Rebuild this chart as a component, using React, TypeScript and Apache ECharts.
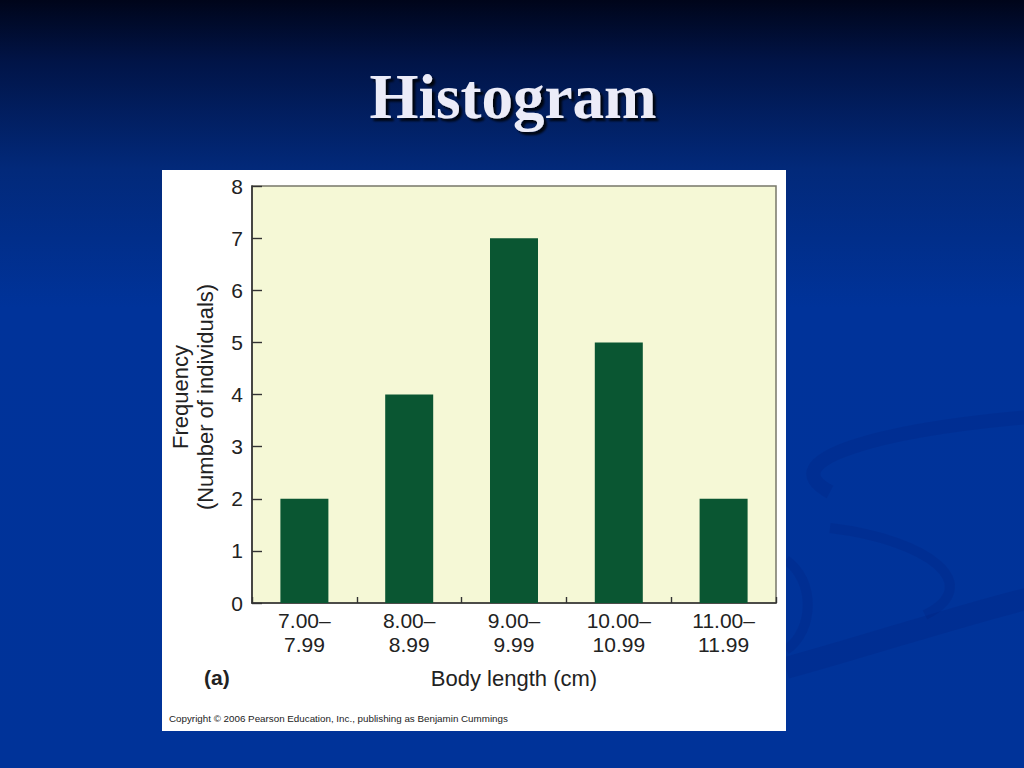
import React, { useEffect, useRef } from "react";
import * as echarts from "echarts";

const categories = ["7.00–\n7.99", "8.00–\n8.99", "9.00–\n9.99", "10.00–\n10.99", "11.00–\n11.99"];
const frequencies = [2, 4, 7, 5, 2];
const yTicks = [0, 1, 2, 3, 4, 5, 6, 7, 8];

const titleText = "Histogram";
const yName = "Frequency\n(Number of individuals)";
const xName = "Body length (cm)";
const panelTag = "(a)";
const copyright = "Copyright © 2006 Pearson Education, Inc., publishing as Benjamin Cummings";

const SANS = "'Liberation Sans', Arial, Helvetica, sans-serif";
const SERIF = "'Liberation Serif', 'Times New Roman', serif";
const swirl = "rgba(0, 30, 120, 0.2)";

export default function App() {
  const ref = useRef<HTMLDivElement>(null);
  useEffect(() => {
    if (!ref.current) return;
    const chart = echarts.init(ref.current, undefined, { renderer: "svg" });
    chart.setOption({
      animation: false,
      backgroundColor: "transparent",
      grid: {
        left: 252,
        right: 248,
        top: 186,
        bottom: 165,
        show: true,
        backgroundColor: "#f5f8d6",
        borderColor: "#77776a",
        borderWidth: 1.5,
      },
      xAxis: {
        type: "category",
        data: categories,
        axisLine: { show: true, lineStyle: { color: "#333", width: 1.6 } },
        axisTick: { show: true, inside: true, length: 6, alignWithLabel: false, lineStyle: { color: "#333", width: 1.4 } },
        axisLabel: { fontSize: 21, color: "#222", lineHeight: 24, margin: 5, fontFamily: SANS },
      },
      yAxis: {
        type: "value",
        min: yTicks[0],
        max: yTicks[yTicks.length - 1],
        interval: 1,
        splitLine: { show: false },
        axisLine: { show: true, lineStyle: { color: "#333", width: 1.6 } },
        axisTick: { show: true, inside: true, length: 10, lineStyle: { color: "#333", width: 1.4 } },
        axisLabel: { fontSize: 21, color: "#222", margin: 9, fontFamily: SANS },
      },
      series: [
        {
          type: "bar",
          data: frequencies,
          barWidth: 48,
          itemStyle: { color: "#0a5632" },
        },
      ],
      graphic: [
        { type: "bezierCurve", z: -3, shape: { x1: 1030, y1: 417, cpx1: 880, cpy1: 430, cpx2: 770, cpy2: 460, x2: 830, y2: 492 }, style: { stroke: swirl, lineWidth: 14, fill: null } },
        { type: "bezierCurve", z: -3, shape: { x1: 830, y1: 528, cpx1: 930, cpy1: 540, cpx2: 985, cpy2: 585, x2: 925, y2: 615 }, style: { stroke: swirl, lineWidth: 10, fill: null } },
        { type: "bezierCurve", z: -3, shape: { x1: 786, y1: 560, cpx1: 815, cpy1: 580, cpx2: 815, cpy2: 630, x2: 786, y2: 650 }, style: { stroke: swirl, lineWidth: 10, fill: null } },
        { type: "bezierCurve", z: -3, shape: { x1: 786, y1: 668, cpx1: 870, cpy1: 645, cpx2: 960, cpy2: 615, x2: 1030, y2: 598 }, style: { stroke: swirl, lineWidth: 22, fill: null } },
        { type: "rect", z: -1, shape: { x: 162, y: 170, width: 624, height: 561 }, style: { fill: "#ffffff" } },
        {
          type: "text",
          x: 513,
          y: 97,
          style: {
            text: titleText,
            fontFamily: SERIF,
            fontWeight: "bold",
            fontSize: 63,
            fill: "#ececf8",
            align: "center",
            verticalAlign: "middle",
            textShadowColor: "rgba(0,0,0,0.85)",
            textShadowOffsetX: 3,
            textShadowOffsetY: 3,
            textShadowBlur: 2,
          },
        },
        {
          type: "text",
          x: 193,
          y: 397,
          rotation: Math.PI / 2,
          style: {
            text: yName,
            fontFamily: SANS,
            fontSize: 22,
            lineHeight: 25,
            fill: "#222",
            align: "center",
            verticalAlign: "middle",
          },
        },
        {
          type: "text",
          x: 514,
          y: 678,
          style: { text: xName, fontFamily: SANS, fontSize: 22, fill: "#222", align: "center", verticalAlign: "middle" },
        },
        {
          type: "text",
          x: 204,
          y: 677,
          style: { text: panelTag, fontFamily: SANS, fontSize: 21, fontWeight: "bold", fill: "#222", align: "left", verticalAlign: "middle" },
        },
        {
          type: "text",
          x: 169,
          y: 718,
          style: { text: copyright, fontFamily: SANS, fontSize: 9.8, fill: "#222", align: "left", verticalAlign: "middle" },
        },
      ],
    });
    return () => chart.dispose();
  }, []);
  return (
    <div
      ref={ref}
      style={{
        position: "fixed",
        left: 0,
        top: 0,
        width: 1024,
        height: 768,
        background:
          "linear-gradient(to bottom, #00051a 0%, #011447 8%, #02297a 22%, #00339a 40%, #003399 100%)",
      }}
    />
  );
}
